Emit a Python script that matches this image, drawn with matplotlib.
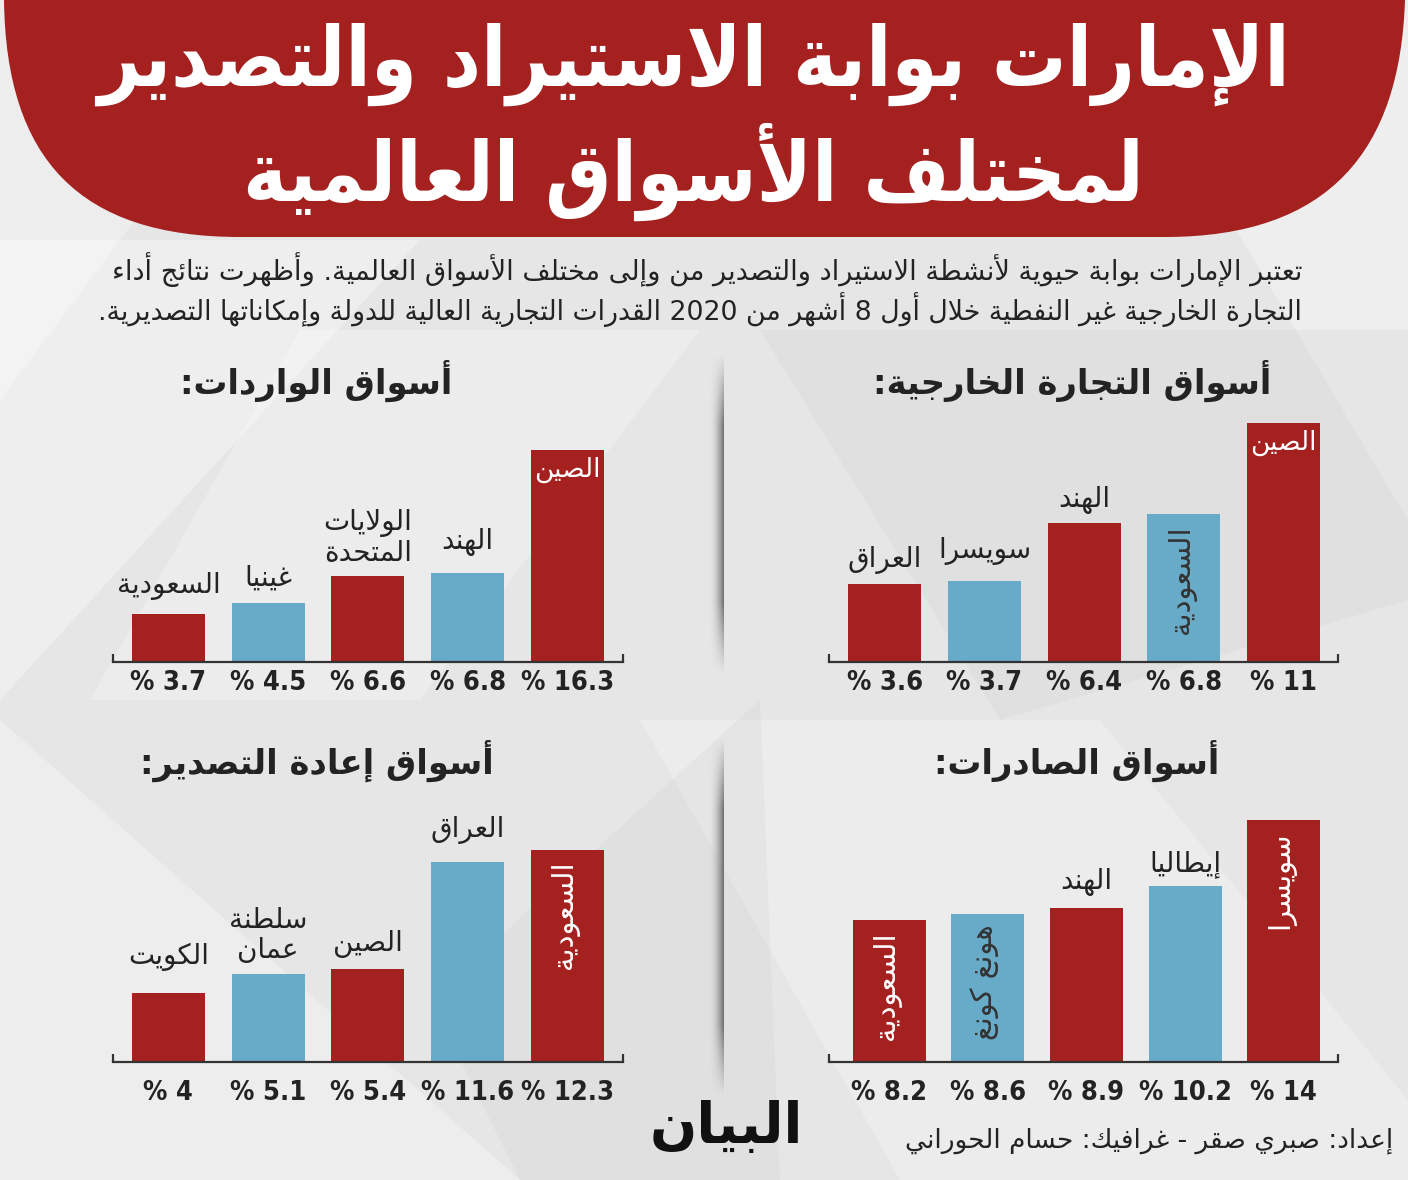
import re
import numpy as np
import matplotlib
matplotlib.use("Agg")
import matplotlib.pyplot as plt
from matplotlib.patches import PathPatch, Polygon
from matplotlib.path import Path

W, H = 1408, 1180

# ---- data -------------------------------------------------------------
title_lines = ['الإمارات بوابة الاستيراد والتصدير', 'لمختلف الأسواق العالمية']
intro_lines = ['تعتبر الإمارات بوابة حيوية لأنشطة الاستيراد والتصدير من وإلى مختلف الأسواق العالمية. وأظهرت نتائج أداء',
               'التجارة الخارجية غير النفطية خلال أول 8 أشهر من 2020 القدرات التجارية العالية للدولة وإمكاناتها التصديرية.']

trade_title = 'أسواق التجارة الخارجية:'
trade_labels = ['العراق', 'سويسرا', 'الهند', 'السعودية', 'الصين']
trade_values = [3.6, 3.7, 6.4, 6.8, 11]

imports_title = 'أسواق الواردات:'
imports_labels = ['السعودية', 'غينيا', 'الولايات\nالمتحدة', 'الهند', 'الصين']
imports_values = [3.7, 4.5, 6.6, 6.8, 16.3]

exports_title = 'أسواق الصادرات:'
exports_labels = ['السعودية', 'هونغ كونغ', 'الهند', 'إيطاليا', 'سويسرا']
exports_values = [8.2, 8.6, 8.9, 10.2, 14]

reexport_title = 'أسواق إعادة التصدير:'
reexport_labels = ['الكويت', 'سلطنة\nعمان', 'الصين', 'العراق', 'السعودية']
reexport_values = [4, 5.1, 5.4, 11.6, 12.3]

credit = 'إعداد: صبري صقر - غرافيك: حسام الحوراني'
logo = 'البيان'

RED = '#a52120'
BLUE = '#68abc9'
DARK = '#232323'

# ---- arabic shaping (no reshaper available) ---------------------------
FORMS = {
    'ء': (0xFE80, 1), 'آ': (0xFE81, 2), 'أ': (0xFE83, 2), 'ؤ': (0xFE85, 2),
    'إ': (0xFE87, 2), 'ئ': (0xFE89, 4), 'ا': (0xFE8D, 2), 'ب': (0xFE8F, 4),
    'ة': (0xFE93, 2), 'ت': (0xFE95, 4), 'ث': (0xFE99, 4), 'ج': (0xFE9D, 4),
    'ح': (0xFEA1, 4), 'خ': (0xFEA5, 4), 'د': (0xFEA9, 2), 'ذ': (0xFEAB, 2),
    'ر': (0xFEAD, 2), 'ز': (0xFEAF, 2), 'س': (0xFEB1, 4), 'ش': (0xFEB5, 4),
    'ص': (0xFEB9, 4), 'ض': (0xFEBD, 4), 'ط': (0xFEC1, 4), 'ظ': (0xFEC5, 4),
    'ع': (0xFEC9, 4), 'غ': (0xFECD, 4), 'ف': (0xFED1, 4), 'ق': (0xFED5, 4),
    'ك': (0xFED9, 4), 'ل': (0xFEDD, 4), 'م': (0xFEE1, 4), 'ن': (0xFEE5, 4),
    'ه': (0xFEE9, 4), 'و': (0xFEED, 2), 'ى': (0xFEEF, 2), 'ي': (0xFEF1, 4),
}
LAM_ALEF = {'آ': 0xFEF5, 'أ': 0xFEF7, 'إ': 0xFEF9, 'ا': 0xFEFB}


def shape_line(text):
    units = []
    i = 0
    while i < len(text):
        c = text[i]
        if c == 'ل' and i + 1 < len(text) and text[i + 1] in LAM_ALEF:
            units.append((LAM_ALEF[text[i + 1]], 2))
            i += 2
            continue
        units.append(FORMS.get(c, (c, 0)))
        i += 1
    out = []
    for k, (base, n) in enumerate(units):
        if n == 0:
            out.append(base)
            continue
        prev_j = n > 1 and k > 0 and units[k - 1][1] == 4
        next_j = n == 4 and k + 1 < len(units) and units[k + 1][1] in (2, 4)
        if prev_j and next_j:
            off = 3
        elif prev_j:
            off = 1
        elif next_j:
            off = 2
        else:
            off = 0
        out.append(chr(base + off))
    s = ''.join(out)
    # visual order: reverse, but keep number runs left-to-right
    parts = re.split(r'([0-9]+(?:\.[0-9]+)?)', s)
    vis = []
    for p in reversed(parts):
        vis.append(p if re.fullmatch(r'[0-9.]+', p or 'x') else p[::-1])
    return ''.join(vis)


def ar(text):
    return '\n'.join(shape_line(t) for t in text.split('\n'))


AR_FONT = ['DejaVu Sans']

fig = plt.figure(figsize=(W / 100, H / 100), dpi=100)
bg = fig.add_axes([0, 0, 1, 1])
bg.set_xlim(0, W)
bg.set_ylim(H, 0)
bg.axis('off')
bg.add_patch(plt.Rectangle((0, 0), W, H, color='#e6e6e6', zorder=0))

# soft geometric background
shapes = [
    ([(0, 0), (300, 0), (0, 400)], '#ffffff', 0.3),
    ([(1100, 0), (1408, 0), (1408, 520)], '#ffffff', 0.35),
    ([(0, 240), (420, 240), (0, 700)], '#ffffff', 0.35),
    ([(300, 330), (700, 330), (420, 700), (90, 700)], '#ffffff', 0.25),
    ([(760, 330), (1408, 330), (1408, 600), (1000, 720)], '#d0d0d0', 0.25),
    ([(0, 720), (520, 1180), (0, 1180)], '#ffffff', 0.3),
    ([(640, 720), (1100, 720), (1408, 1100), (1408, 1180), (900, 1180)], '#ffffff', 0.25),
    ([(430, 1000), (760, 700), (780, 1180), (520, 1180)], '#d2d2d2', 0.25),
]
for pts, col, a in shapes:
    bg.add_patch(Polygon(pts, closed=True, facecolor=col, edgecolor='none', alpha=a, zorder=1))

# red header
verts = [(4, 0), (1405, 0),
         (1400, 150), (1330, 237), (1165, 237),
         (240, 237),
         (80, 237), (6, 160), (4, 0)]
codes = [Path.MOVETO, Path.LINETO,
         Path.CURVE4, Path.CURVE4, Path.CURVE4,
         Path.LINETO,
         Path.CURVE4, Path.CURVE4, Path.CURVE4]
bg.add_patch(PathPatch(Path(verts, codes), facecolor=RED, edgecolor='none', zorder=2))
bg.text(693, 64, ar(title_lines[0]), ha='center', va='center', color='white',
        fontsize=59.5, fontweight='bold', fontstretch='condensed', family=AR_FONT, zorder=3)
bg.text(693, 172, ar(title_lines[1]), ha='center', va='center', color='white',
        fontsize=59.5, fontweight='bold', fontstretch='condensed', family=AR_FONT, zorder=3)

bg.text(1302, 270, ar(intro_lines[0]), ha='right', va='center', color=DARK,
        fontsize=19.6, family=AR_FONT, zorder=3)
bg.text(1302, 310, ar(intro_lines[1]), ha='right', va='center', color=DARK,
        fontsize=19.3, family=AR_FONT, zorder=3)

# separator with a soft shadow to its left
prof = np.linspace(0, 1, 16) ** 2
for seg in [(355, 672), (738, 1094)]:
    n = seg[1] - seg[0]
    taper = np.clip(np.minimum(np.arange(n), n - np.arange(n)) / 70.0, 0, 1)
    alpha = taper[:, None] * prof[None, :] * 0.75
    img = np.zeros((n, 16, 4))
    img[..., :3] = 0.3
    img[..., 3] = alpha
    bg.imshow(img, extent=(708, 724, seg[1], seg[0]), aspect='auto', zorder=2,
              interpolation='bilinear')
bg.set_xlim(0, W)
bg.set_ylim(H, 0)

bg.text(1393, 1141, ar(credit), ha='right', va='center', color=DARK,
        fontsize=19, family=AR_FONT, zorder=3)
bg.text(726, 1128, ar(logo), ha='center', va='center', color='#111111',
        fontsize=40, fontweight='bold', family=AR_FONT, zorder=3)


def panel(title, labels, values, styles, colors, title_xy, centers, axis_x,
          base_y, px_per_unit, pct_gap, label_gaps):
    spacing = (centers[-1] - centers[0]) / 4
    top = base_y - 300
    ax = fig.add_axes([axis_x[0] / W, 1 - base_y / H,
                       (axis_x[1] - axis_x[0]) / W, (base_y - top) / H])
    ax.patch.set_alpha(0)
    x0 = (axis_x[0] - centers[0]) / spacing
    x1 = (axis_x[1] - centers[0]) / spacing
    ax.set_xlim(x0, x1)
    ax.set_ylim(0, (base_y - top) / px_per_unit)
    pos = list(range(len(values)))
    ax.bar(pos, values, width=73 / spacing, color=colors, zorder=2)
    for s in ['top', 'left', 'right']:
        ax.spines[s].set_visible(False)
    ax.spines['bottom'].set_color('#333333')
    ax.spines['bottom'].set_linewidth(1.6)
    ax.set_yticks([])
    ax.set_xticks([x0 + 0.005, x1 - 0.005])
    ax.tick_params(axis='x', direction='in', length=6, width=1.6, color='#333333',
                   labelbottom=False)
    for i, (lab, v, st) in enumerate(zip(labels, values, styles)):
        ax.annotate('% ' + ('%g' % v), (i, 0), xytext=(0, -pct_gap * 0.72),
                    textcoords='offset points', ha='center', va='center',
                    fontsize=19.5, fontweight='bold', fontstretch='condensed', color=DARK,
                    family=['DejaVu Sans'], annotation_clip=False)
        txt_col = 'white' if colors[i] == RED else '#333333'
        if st == 'above':
            ax.annotate(ar(lab), (i, v), xytext=(0, label_gaps[i] * 0.72),
                        textcoords='offset points', ha='center', va='bottom',
                        fontsize=20, color=DARK, family=AR_FONT,
                        linespacing=1.1, annotation_clip=False)
        elif st == 'top':
            ax.annotate(ar(lab), (i, v), xytext=(0, -7 * 0.72),
                        textcoords='offset points', ha='center', va='top',
                        fontsize=19, color=txt_col, family=AR_FONT, annotation_clip=False)
        else:
            ax.annotate(ar(lab), (i, v), xytext=(-2, -11 * 0.72),
                        textcoords='offset points', ha='center', va='top', rotation=90,
                        fontsize=21, color=txt_col, family=AR_FONT, annotation_clip=False)
    bg.text(title_xy[0], title_xy[1], ar(title), ha='center', va='center', color=DARK,
            fontsize=24.3, fontweight='bold', family=AR_FONT, zorder=3)
    return ax


panel(trade_title, trade_labels, trade_values,
      ['above', 'above', 'above', 'vert', 'top'], [RED, BLUE, RED, BLUE, RED],
      (1072, 381), [884.7, 984.7, 1084.3, 1184.2, 1283.7], (829, 1338),
      661.7, 21.7, 21, [10, 16, 9, 10, 10])
panel(imports_title, imports_labels, imports_values,
      ['above', 'above', 'above', 'above', 'top'], [RED, BLUE, RED, BLUE, RED],
      (316, 381), [168.4, 268.2, 368.1, 467.8, 567.4], (113, 623),
      661.7, 13.0, 21, [14, 12, 9, 17, 10])
panel(exports_title, exports_labels, exports_values,
      ['vert', 'vert', 'above', 'above', 'vert'], [RED, BLUE, RED, BLUE, RED],
      (1077, 761), [889.0, 987.7, 1086.3, 1185.2, 1283.8], (829, 1338),
      1062.3, 17.3, 31, [10, 10, 12, 8, 10])
panel(reexport_title, reexport_labels, reexport_values,
      ['above', 'above', 'above', 'above', 'vert'], [RED, BLUE, RED, BLUE, RED],
      (317, 761), [168.4, 268.2, 368.1, 467.8, 567.4], (113, 623),
      1062.3, 17.3, 31, [22, 10, 11, 18, 10])

fig.savefig('out.png', dpi=100)
